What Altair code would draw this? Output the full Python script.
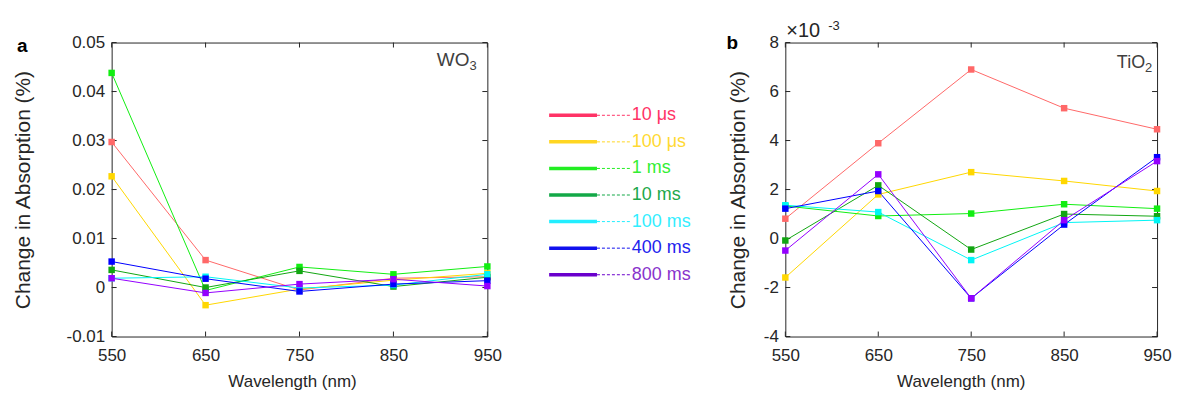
import altair as alt
import pandas as pd

wavelengths = [550, 650, 750, 850, 950]
series_names = ["10 μs", "100 μs", "1 ms", "10 ms", "100 ms", "400 ms", "800 ms"]

# Panel a: WO3, change in absorption (%)
wo3_10us = [0.0297, 0.0056, -0.0005, 0.0019, 0.0022]
wo3_100us = [0.0227, -0.0036, -0.0003, 0.0015, 0.0029]
wo3_1ms = [0.0438, -0.0006, 0.0042, 0.0027, 0.0043]
wo3_10ms = [0.0036, 0.0000, 0.0034, 0.0002, 0.0021]
wo3_100ms = [0.0019, 0.0022, -0.0001, 0.0005, 0.0027]
wo3_400ms = [0.0053, 0.0018, -0.0008, 0.0007, 0.0014]
wo3_800ms = [0.0019, -0.0011, 0.0007, 0.0017, 0.0003]

# Panel b: TiO2, change in absorption (x10^-3 %)
tio2_10us = [0.81, 3.89, 6.90, 5.32, 4.46]
tio2_100us = [-1.59, 1.80, 2.71, 2.35, 1.94]
tio2_1ms = [1.33, 0.92, 1.02, 1.40, 1.22]
tio2_10ms = [-0.08, 2.17, -0.45, 1.00, 0.91]
tio2_100ms = [1.36, 1.08, -0.88, 0.65, 0.75]
tio2_400ms = [1.22, 1.94, -2.44, 0.57, 3.32]
tio2_800ms = [-0.49, 2.62, -2.44, 0.75, 3.16]

wo3_ticks = [-0.01, 0, 0.01, 0.02, 0.03, 0.04, 0.05]
tio2_ticks = [-4, -2, 0, 2, 4, 6, 8]

plot_colors = ["#ff6868", "#ffd700", "#11ee11", "#12a612", "#00f5f5", "#0000ff", "#9400ff"]
legend_line_colors = ["#ff3366", "#ffd622", "#22ee22", "#13a847", "#22eeff", "#1111ee", "#6a00cc"]
legend_text_colors = ["#ff3366", "#ffd933", "#33ee33", "#1ca84a", "#33eeff", "#2222ee", "#8833cc"]

FONT = "Liberation Sans"
AX = "#262626"
W1, W2, H = 377, 373, 295


def long_df(series_lists):
    rows = []
    for name, vals in zip(series_names, series_lists):
        for w, v in zip(wavelengths, vals):
            rows.append({"series": name, "wavelength": w, "value": v})
    return pd.DataFrame(rows)


def panel(df, ydomain, yticks, W, title_pad, label_expr, xtitle_x):
    x_enc = alt.X("wavelength:Q",
                  scale=alt.Scale(domain=[550, 950], nice=False, zero=False),
                  axis=alt.Axis(values=wavelengths, title="Wavelength (nm)", labelPadding=11,
                                titlePadding=10, format="d", labelFlush=False, titleFontSize=17,
                                titleX=xtitle_x))
    y_enc = alt.Y("value:Q",
                  scale=alt.Scale(domain=ydomain, nice=False, zero=False),
                  axis=alt.Axis(values=yticks, title="Change in Absorption (%)", titleFontSize=21,
                                labelPadding=7, titlePadding=title_pad, labelExpr=label_expr,
                                labelFlush=False))
    col = alt.Color("series:N", scale=alt.Scale(domain=series_names, range=plot_colors), legend=None)
    lines = alt.Chart(df).mark_line(strokeWidth=1).encode(x=x_enc, y=y_enc, color=col, detail="series:N")
    pts = alt.Chart(df).mark_square(size=42, opacity=1, filled=True).encode(x=x_enc, y=y_enc, color=col)
    xt = pd.DataFrame({"wavelength": wavelengths})
    yt = pd.DataFrame({"value": yticks})
    tk = dict(color=AX, strokeWidth=1)
    t_bottom = alt.Chart(xt).mark_rule(**tk).encode(x=x_enc, y=alt.value(H - 5), y2=alt.value(H))
    t_top = alt.Chart(xt).mark_rule(**tk).encode(x=x_enc, y=alt.value(0), y2=alt.value(5))
    t_left = alt.Chart(yt).mark_rule(**tk).encode(y=y_enc, x=alt.value(0), x2=alt.value(5))
    t_right = alt.Chart(yt).mark_rule(**tk).encode(y=y_enc, x=alt.value(W - 5), x2=alt.value(W))
    return [t_bottom, t_top, t_left, t_right, lines, pts]


one = pd.DataFrame({"k": [0]})


def txt(s, x, y, size, color=AX, weight="normal", align="left", opacity=1.0):
    return alt.Chart(one).mark_text(text=s, font=FONT, fontSize=size, fontWeight=weight, color=color,
                                    align=align, baseline="alphabetic", opacity=opacity).encode(
        x=alt.value(x), y=alt.value(y))


wo3_df = long_df([wo3_10us, wo3_100us, wo3_1ms, wo3_10ms, wo3_100ms, wo3_400ms, wo3_800ms])
tio2_df = long_df([tio2_10us, tio2_100us, tio2_1ms, tio2_10ms, tio2_100ms, tio2_400ms, tio2_800ms])

left_layers = panel(wo3_df, [-0.01, 0.05], wo3_ticks, W1, 33,
                    "datum.value == 0 ? '0' : replace(format(datum.value, '.2f'), '\u2212', '-')", 181)
left = alt.layer(
    *left_layers,
    txt("WO", 359, 24, 19, color="#404040", align="right"),
    txt("3", 359, 28, 13, color="#404040"),
    txt("a", -95, 9, 19, color="#000000", weight="bold"),
    txt("-3", 0, -13, 13, opacity=0),
).properties(width=W1, height=H)

right_layers = panel(tio2_df, [-4, 8], tio2_ticks, W2, 15,
                     "replace(format(datum.value, 'd'), '\u2212', '-')", 176)
right = alt.layer(
    *right_layers,
    txt("TiO", 361, 26, 18, color="#404040", align="right"),
    txt("2", 361, 30, 13, color="#404040"),
    txt("b", -59, 6, 19, color="#000000", weight="bold"),
    txt("\u00d710", 1, -6, 20),
    txt("-3", 43, -13, 13),
).properties(width=W2, height=H)

leg_df = pd.DataFrame({"series": series_names})
y_leg = alt.Y("series:N", scale=alt.Scale(type="point", domain=series_names, range=[73, 233], padding=0),
              axis=None)
leg_line = alt.Color("series:N", scale=alt.Scale(domain=series_names, range=legend_line_colors), legend=None)
leg_text = alt.Color("series:N", scale=alt.Scale(domain=series_names, range=legend_text_colors), legend=None)
LW = 222
legend = alt.layer(
    alt.Chart(leg_df).mark_rule(strokeWidth=3.5).encode(x=alt.value(46), x2=alt.value(94), y=y_leg, color=leg_line),
    alt.Chart(leg_df).mark_rule(strokeWidth=1, strokeDash=[3, 2]).encode(x=alt.value(94), x2=alt.value(128), y=y_leg, color=leg_line),
    alt.Chart(leg_df).mark_text(align="left", baseline="middle", font=FONT, fontSize=18).encode(
        x=alt.value(129), y=y_leg, text="series:N", color=leg_text),
    txt("-3", 0, -13, 13, opacity=0),
).resolve_scale(color="independent").properties(width=LW, height=H, view=alt.ViewBackground(stroke="transparent"))

chart = alt.hconcat(left, legend, right, spacing=0).properties(
    padding={"left": 3, "top": 10, "right": 0, "bottom": 0}
).configure(font=FONT).configure_view(stroke=AX, strokeWidth=1).configure_axis(
    grid=False, ticks=False, domain=False, labelFont=FONT, titleFont=FONT, labelFontSize=17,
    titleFontSize=19, titleFontWeight="normal", labelColor=AX, titleColor=AX
)

chart.save("out.html", embed_options={"renderer": "svg", "actions": False})
